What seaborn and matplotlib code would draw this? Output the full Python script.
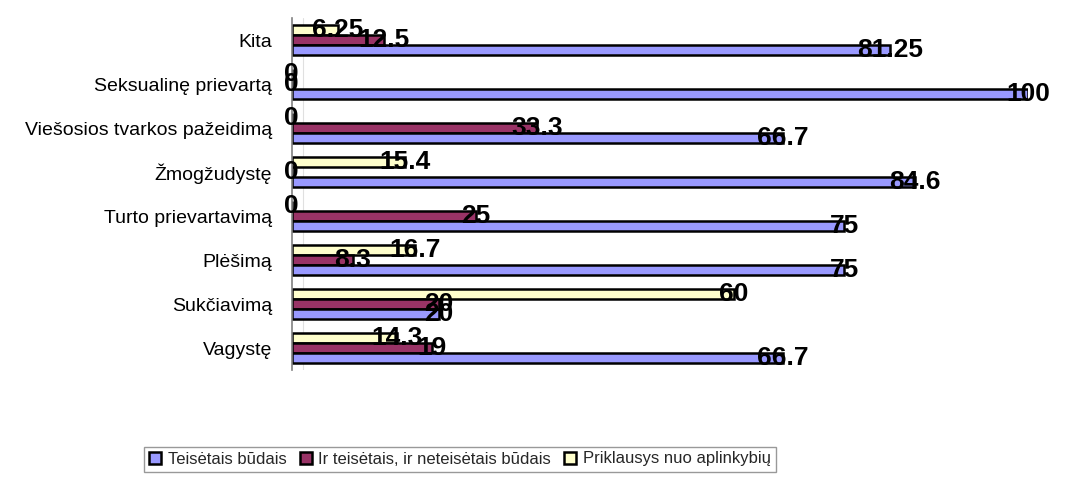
import matplotlib
matplotlib.use("Agg")
import matplotlib.pyplot as plt
import seaborn as sns
import pandas as pd

categories = ["Kita", "Seksualinę prievartą", "Viešosios tvarkos pažeidimą", "Žmogžudystę",
              "Turto prievartavimą", "Plėšimą", "Sukčiavimą", "Vagystę"]
series_names = ["Teisėtais būdais", "Ir teisėtais, ir neteisėtais būdais", "Priklausys nuo aplinkybių"]
teisetais = [81.25, 100, 66.7, 84.6, 75, 75, 20, 66.7]
ir_teisetais = [12.5, 0, 33.3, 0, 25, 8.3, 20, 19]
priklausys = [6.25, 0, 0, 15.4, 0, 16.7, 60, 14.3]
colors = {"Teisėtais būdais": "#9999FF",
          "Ir teisėtais, ir neteisėtais būdais": "#993366",
          "Priklausys nuo aplinkybių": "#FFFFCC"}

rows = []
for name, vals in zip(series_names, [teisetais, ir_teisetais, priklausys]):
    for c, v in zip(categories, vals):
        rows.append({"cat": c, "series": name, "val": v})
df = pd.DataFrame(rows)

sns.set_style("white")
plt.rcParams['font.family'] = ['Liberation Sans', 'DejaVu Sans']

fig = plt.figure(figsize=(10.8, 4.87), dpi=100)
ax = fig.add_axes([0.270, 0.240, 0.682, 0.723])

draw_order = list(reversed(series_names))  # top bar = Priklausys, bottom = Teisėtais
sns.barplot(data=df, y="cat", x="val", hue="series", order=categories, hue_order=draw_order,
            palette=colors, orient="h", width=0.68, edgecolor="black", linewidth=1.8,
            saturation=1, ax=ax, legend=True)

for cont in ax.containers:
    for p in cont:
        w = p.get_width()
        ax.text(w, p.get_y() + p.get_height() / 2, f"{w:g}", ha="center", va="center",
                fontsize=19, fontweight="bold", color="black", zorder=5)

ax.set_xlim(0, 100)
ax.set_xlabel("")
ax.set_ylabel("")
ax.set_xticks([])
ax.tick_params(axis="y", labelsize=14, length=0, pad=14, labelcolor="black")
for s in ["top", "right", "bottom"]:
    ax.spines[s].set_visible(False)
ax.spines["left"].set_color("#808080")
ax.spines["left"].set_linewidth(1.2)
ax.axvline(1.5, color="#e0e0e0", lw=0.8, zorder=0)

handles, labels = ax.get_legend_handles_labels()
ax.get_legend().remove()
hmap = dict(zip(labels, handles))
leg = fig.legend([hmap[n] for n in series_names], series_names, loc="center",
                 bbox_to_anchor=(460 / 1080, 1 - 459 / 487), ncol=3, fontsize=12,
                 frameon=True, fancybox=False, edgecolor="#808080", handlelength=0.7,
                 handleheight=0.7, handletextpad=0.4, columnspacing=0.8,
                 borderpad=0.3)
leg.get_frame().set_linewidth(1.0)

fig.savefig("out.png", dpi=100)
